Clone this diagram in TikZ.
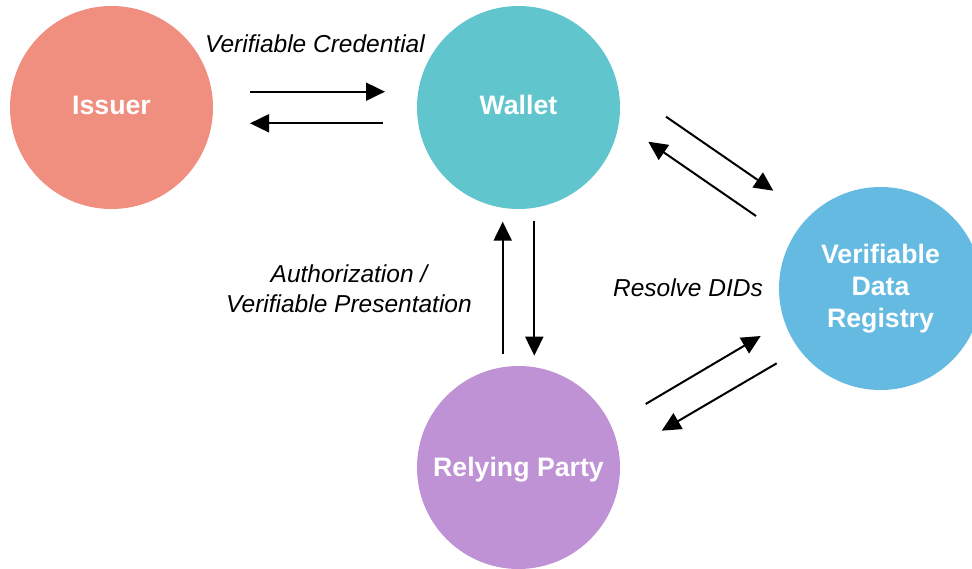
\documentclass[tikz,border=0pt]{standalone}
\usepackage{fontspec}
\setmainfont{Liberation Sans}
\usetikzlibrary{arrows.meta}
\definecolor{issuercol}{HTML}{F08E80}
\definecolor{walletcol}{HTML}{61C5CD}
\definecolor{registrycol}{HTML}{64BAE1}
\definecolor{partycol}{HTML}{BE92D4}
\begin{document}
\begin{tikzpicture}[x=1pt,y=-1pt,
  party/.style={circle, minimum size=203pt, inner sep=0pt, text=white,
    font=\fontsize{26.7}{32}\selectfont\bfseries, align=center},
  oneline/.style={text height=19.1pt, text depth=#1},
  flow/.style={line width=2pt, -{Triangle[length=19pt,width=18pt]}},
  caption/.style={font=\fontsize{24.5}{30}\selectfont\itshape, align=center, inner sep=0pt}]
\useasboundingbox (0,0) rectangle (972,569);

% the four parties
\node[party, oneline=4.1pt, fill=issuercol] (issuer)   at (111.5,107.5) {Issuer};
\node[party, oneline=4.1pt, fill=walletcol] (wallet)   at (518.5,107.5) {Wallet};
\node[party, fill=registrycol]              (registry) at (880.5,288.5) {Verifiable\\Data\\Registry};
\node[party, oneline=0.7pt, fill=partycol]  (relying)  at (518.5,467.5) {Relying Party};

% arrow end points
\coordinate (iwA) at (250,91.7);   \coordinate (iwB) at (385,91.7);
\coordinate (wiA) at (383,123.3);  \coordinate (wiB) at (250,123.3);
\coordinate (rwA) at (502.7,354);  \coordinate (rwB) at (502.7,221.7);
\coordinate (wrA) at (534.3,220.7);\coordinate (wrB) at (534.3,355.7);
\coordinate (wgA) at (666,116.7);  \coordinate (wgB) at (773.3,190.7);
\coordinate (gwA) at (756,216);    \coordinate (gwB) at (648.3,141.7);
\coordinate (pgA) at (645.7,404);  \coordinate (pgB) at (760.7,336);
\coordinate (gpA) at (776.7,363.3);\coordinate (gpB) at (661.7,430.7);

% exchanges
\draw[flow] (iwA) -- (iwB);
\draw[flow] (wiA) -- (wiB);
\draw[flow] (rwA) -- (rwB);
\draw[flow] (wrA) -- (wrB);
\draw[flow] (wgA) -- (wgB);
\draw[flow] (gwA) -- (gwB);
\draw[flow] (pgA) -- (pgB);
\draw[flow] (gpA) -- (gpB);

% captions
\node[caption] (vc)  at (315,44)  {Verifiable Credential};
\node[caption] (vp)  at (349,288.5) {Authorization /\\Verifiable Presentation};
\node[caption] (did) at (688,288) {Resolve DIDs};
\end{tikzpicture}
\end{document}
